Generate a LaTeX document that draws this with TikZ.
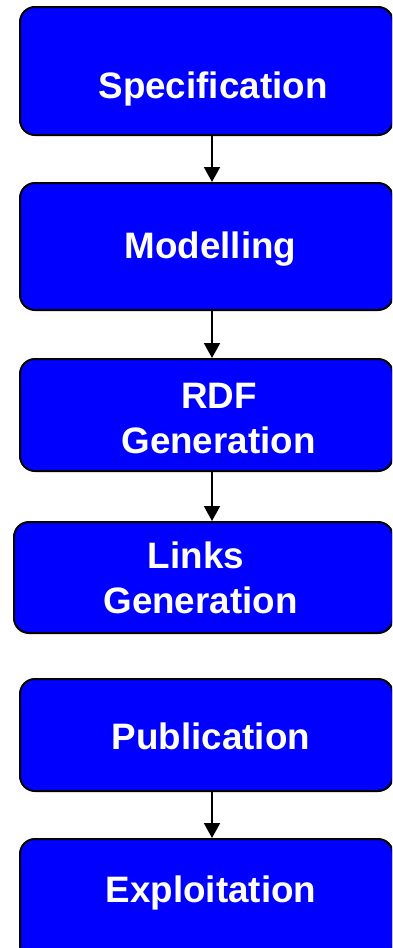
\documentclass[tikz,border=0pt]{standalone}
\usepackage{fontspec}
\setmainfont{Liberation Sans}
\usetikzlibrary{arrows.meta}
\definecolor{boxblue}{RGB}{0,0,255}
\begin{document}
\begin{tikzpicture}[x=1pt,y=-1pt,
  stage/.style={draw=black, line width=2pt, fill=boxblue, rounded corners=15pt, inner sep=0pt},
  lbl/.style={text=white, font=\fontsize{36.8}{45}\selectfont\bfseries, inner sep=0pt, anchor=base},
  arr/.style={draw=black, line width=2pt, -{Triangle[length=15pt,width=16pt]}}]
\useasboundingbox (0,0) rectangle (392,948);
\clip (0,0) rectangle (392,948);
\node[stage, minimum width=373pt, minimum height=128pt] (spec) at (206.5,71) {};
\node[stage, minimum width=373pt, minimum height=127pt] (model) at (206.5,246.5) {};
\node[stage, minimum width=373pt, minimum height=112pt] (rdf) at (206.5,415) {};
\node[stage, minimum width=379pt, minimum height=111pt] (links) at (203.5,577.5) {};
\node[stage, minimum width=373pt, minimum height=112pt] (pub) at (206.5,735) {};
\node[stage, minimum width=373pt, minimum height=121pt] (expl) at (206.5,899.5) {};
\node[lbl] (tspec) at (213,98) {Specification};
\node[lbl] (tmodel) at (210.5,258) {Modelling};
\node[lbl] (trdf1) at (219,408) {RDF};
\node[lbl] (trdf2) at (218.5,453) {Generation};
\node[lbl] (tlinks1) at (196,568) {Links};
\node[lbl] (tlinks2) at (200.5,613) {Generation};
\node[lbl] (tpub) at (210.8,749) {Publication};
\node[lbl] (texpl) at (211,902) {Exploitation};
\coordinate (ax) at (212,0);
\draw[arr] (spec.south -| ax) -- (model.north -| ax);
\draw[arr] (model.south -| ax) -- (rdf.north -| ax);
\draw[arr] (rdf.south -| ax) -- (links.north -| ax);
\draw[arr] (pub.south -| ax) -- (expl.north -| ax);
\end{tikzpicture}
\end{document}
